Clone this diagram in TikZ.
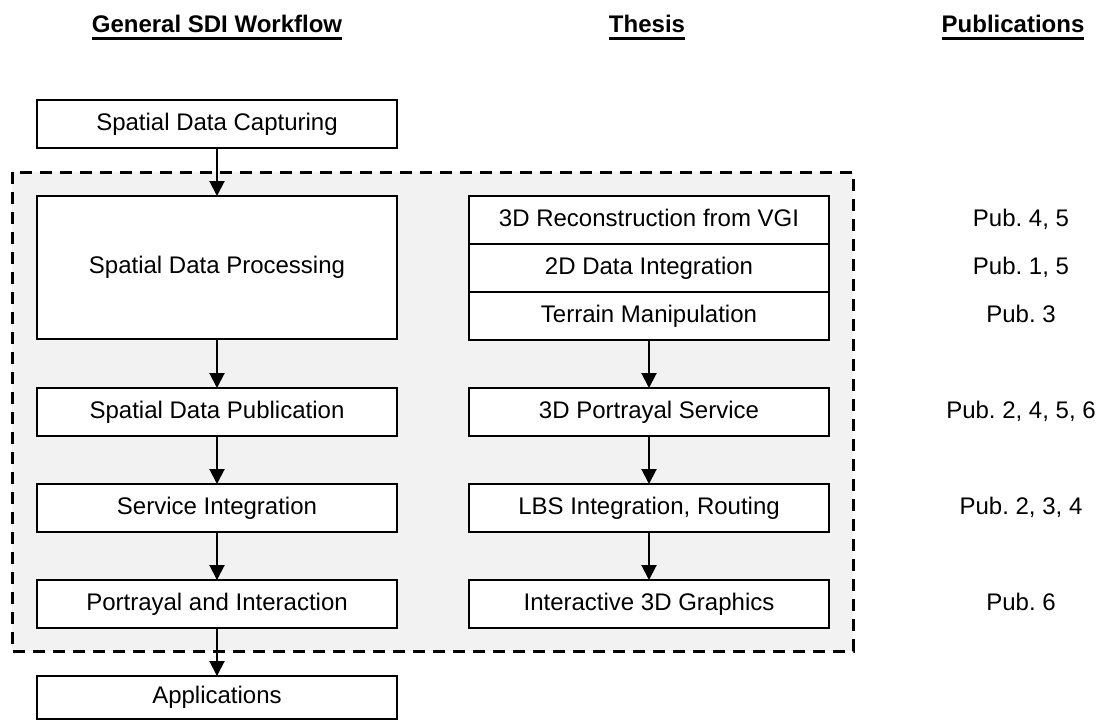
\documentclass[tikz,border=0pt]{standalone}
\usepackage{fontspec}
\setmainfont{Liberation Sans}
\usetikzlibrary{arrows.meta}
\definecolor{panelgray}{RGB}{242,242,242}
\frenchspacing
\begin{document}
\begin{tikzpicture}[x=0.5pt,y=-0.5pt,
  boxnode/.style={draw, line width=1pt, fill=white, minimum width=180pt, minimum height=24pt, inner sep=0pt, outer sep=0pt, text height=8.6pt, text depth=2.5pt, font=\fontsize{12}{14}\selectfont},
  pubnode/.style={inner sep=0pt, text height=8.6pt, text depth=2.5pt, font=\fontsize{12}{14}\selectfont},
  headnode/.style={inner sep=0pt, outer sep=0pt, anchor=base, font=\fontsize{12}{14}\selectfont\bfseries},
  underl/.style={line width=1.3pt},
  flow/.style={line width=1pt, -{Triangle[length=7.5pt,width=7.5pt]}},
  panel/.style={draw, line width=1.5pt, dash pattern=on 6pt off 4pt, fill=panelgray}]
\useasboundingbox (0,0) rectangle (1098,720);
% headers
\node[headnode] (h1) at (217,32) {General SDI Workflow};
\node[headnode] (h2) at (647,32) {Thesis};
\node[headnode] (h3) at (1013,32) {Publications};
\foreach \h in {h1,h2,h3}
  \draw[underl] ([yshift=-3.3pt]\h.base west) -- ([yshift=-3.3pt]\h.base east);
% dashed panel
\path[panel] (12,172) rectangle (853,651);
% left column
\node[boxnode] (cap) at (217,124) {Spatial Data Capturing};
\node[boxnode, minimum height=71.5pt] (proc) at (217,267.5) {Spatial Data Processing};
\node[boxnode] (pub) at (217,412) {Spatial Data Publication};
\node[boxnode] (serv) at (217,508) {Service Integration};
\node[boxnode] (port) at (217,604) {Portrayal and Interaction};
\node[boxnode, minimum height=21.5pt] (app) at (217,697.5) {Applications};
% right column
\node[boxnode] (rec) at (649,220) {3D Reconstruction from VGI};
\node[boxnode] (int2d) at (649,268) {2D Data Integration};
\node[boxnode] (terr) at (649,316) {Terrain Manipulation};
\node[boxnode] (portr) at (649,412) {3D Portrayal Service};
\node[boxnode] (lbs) at (649,508) {LBS Integration, Routing};
\node[boxnode] (inter) at (649,604) {Interactive 3D Graphics};
% publications
\node[pubnode] (p1) at (1021,220) {Pub. 4, 5};
\node[pubnode] (p2) at (1021,268) {Pub. 1, 5};
\node[pubnode] (p3) at (1021,316) {Pub. 3};
\node[pubnode] (p4) at (1021,412) {Pub. 2, 4, 5, 6};
\node[pubnode] (p5) at (1021,508) {Pub. 2, 3, 4};
\node[pubnode] (p6) at (1021,604) {Pub. 6};
% arrows
\draw[flow] (cap) -- (proc);
\draw[flow] (proc) -- (pub);
\draw[flow] (pub) -- (serv);
\draw[flow] (serv) -- (port);
\draw[flow] (port) -- (app);
\draw[flow] (terr) -- (portr);
\draw[flow] (portr) -- (lbs);
\draw[flow] (lbs) -- (inter);
\end{tikzpicture}
\end{document}
